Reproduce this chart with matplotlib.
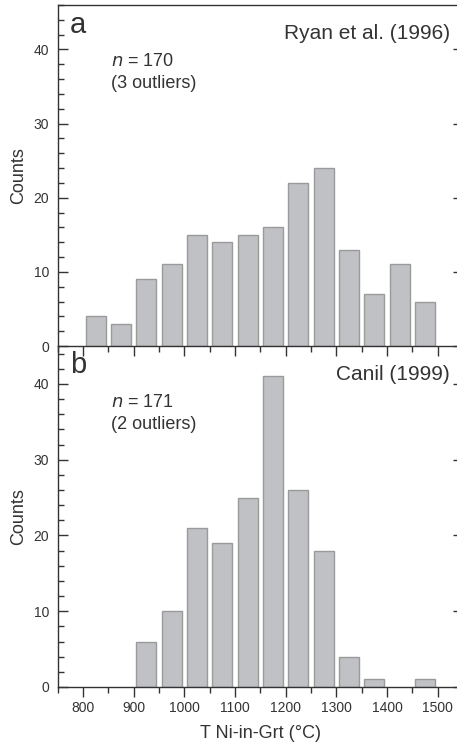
import matplotlib
matplotlib.use("Agg")
import matplotlib.pyplot as plt
from matplotlib.ticker import MultipleLocator

plt.rcParams['font.family'] = ['Liberation Sans', 'DejaVu Sans']

bin_centers = [825, 875, 925, 975, 1025, 1075, 1125, 1175, 1225, 1275, 1325, 1375, 1425, 1475]
counts_ryan = [4, 3, 9, 11, 15, 14, 15, 16, 22, 24, 13, 7, 11, 6]
counts_canil = [0, 0, 6, 10, 21, 19, 25, 41, 26, 18, 4, 1, 0, 1]
xticks = [800, 900, 1000, 1100, 1200, 1300, 1400, 1500]
yticks = [0, 10, 20, 30, 40]

labels = ["a", "b"]
refs = ["Ryan et al. (1996)", "Canil (1999)"]
ns = ["170", "171"]
outl = ["(3 outliers)", "(2 outliers)"]

W, H = 457, 743
fig = plt.figure(figsize=(W / 100, H / 100), dpi=100)

dark = "#333333"
fill = "#c0c1c5"
edge = "#9a9a9a"

left = 57.7 / W
width = (463.0 - 57.7) / W
ax_a = fig.add_axes([left, 1 - 346 / H, width, (346 - 5) / H])
ax_b = fig.add_axes([left, 1 - 687 / H, width, (687 - 346) / H])

for i, (ax, data) in enumerate([(ax_a, counts_ryan), (ax_b, counts_canil)]):
    xs = [c for c, v in zip(bin_centers, data) if v > 0]
    vs = [v for v in data if v > 0]
    ax.bar(xs, vs, width=40, color=fill, edgecolor=edge, linewidth=1.0, zorder=2)
    ax.set_xlim(750, 1550)
    ax.set_ylim(0, 46 if i == 0 else 45)
    ax.set_xticks(xticks)
    ax.xaxis.set_minor_locator(MultipleLocator(50))
    ax.set_yticks(yticks)
    ax.yaxis.set_minor_locator(MultipleLocator(2))
    for s in ax.spines.values():
        s.set_color(dark)
        s.set_linewidth(1.0)
    ax.tick_params(axis='x', which='major', direction='out', length=7, width=1.0, color=dark,
                   labelsize=10, labelcolor=dark, pad=3)
    ax.tick_params(axis='x', which='minor', direction='out', length=4, width=1.0, color=dark)
    ax.tick_params(axis='y', which='major', direction='in', length=7, width=1.0, color=dark,
                   labelsize=10, labelcolor=dark, right=True, pad=6)
    ax.tick_params(axis='y', which='minor', direction='in', length=4, width=1.0, color=dark)
    ax.set_ylabel("Counts", fontsize=13, color=dark, labelpad=5)
    ax.patch.set_alpha(0)

    ytop_label = 0.918 if i == 0 else 0.921
    ax.text(0.030, ytop_label, labels[i], transform=ax.transAxes, fontsize=21, color=dark,
            ha='left', va='baseline')
    ax.text(0.968, 0.900, refs[i], transform=ax.transAxes, fontsize=15, color=dark,
            ha='right', va='baseline')
    ax.text(0.1315, 0.820, r"$\it{n}$ = " + ns[i], transform=ax.transAxes, fontsize=13,
            color=dark, ha='left', va='baseline')
    ax.text(0.1315, 0.758, outl[i], transform=ax.transAxes, fontsize=13, color=dark,
            ha='left', va='baseline')

ax_a.tick_params(axis='x', labelbottom=False)
ax_b.spines['top'].set_visible(False)
ax_b.set_xlabel("T Ni-in-Grt (°C)", fontsize=13, color=dark, labelpad=7)

fig.savefig("out.png", dpi=100)
